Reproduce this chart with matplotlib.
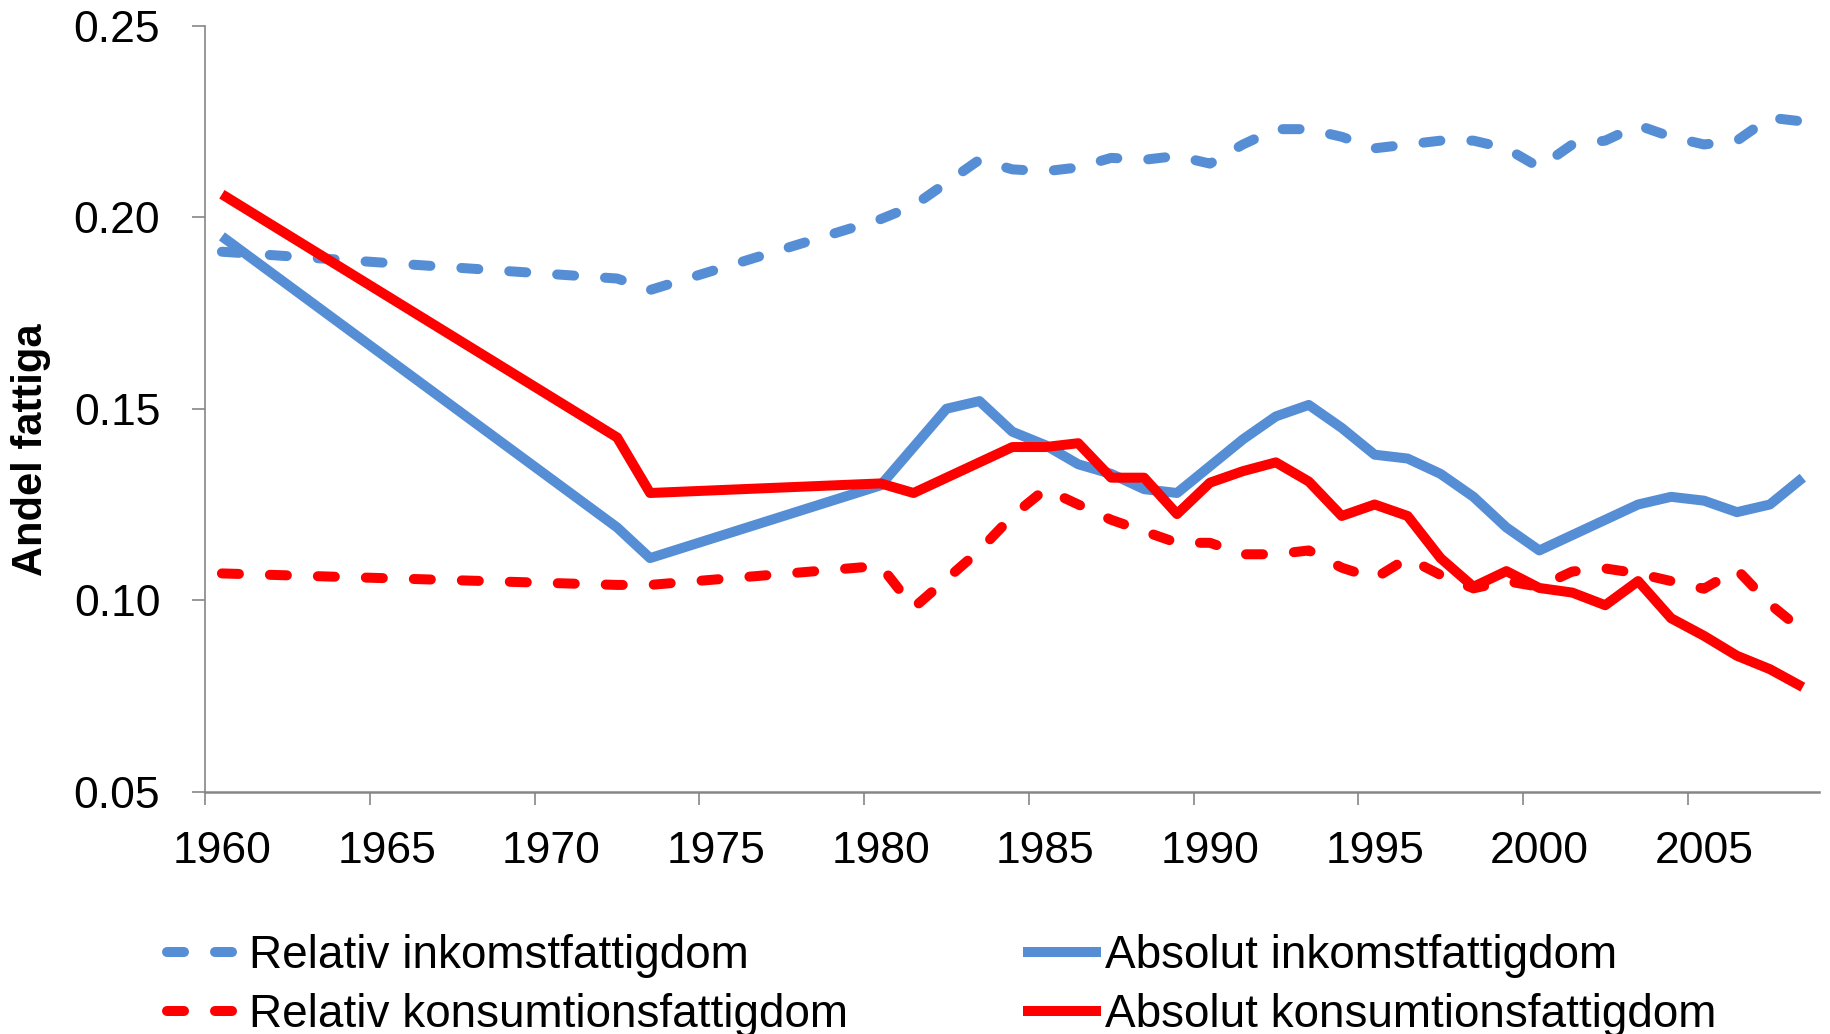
import numpy as np
import matplotlib
matplotlib.use("Agg")
import matplotlib.pyplot as plt

plt.rcParams['font.family'] = ['Liberation Sans', 'DejaVu Sans']

years = [1960, 1972, 1973, 1980, 1981, 1982, 1983, 1984, 1985, 1986, 1987,
         1988, 1989, 1990, 1991, 1992, 1993, 1994, 1995, 1996, 1997, 1998,
         1999, 2000, 2001, 2002, 2003, 2004, 2005, 2006, 2007, 2008]

# Relativ inkomstfattigdom (blue dashed)
rel_ink = [0.191, 0.184, 0.181, 0.1995, 0.203, 0.209, 0.215, 0.2125, 0.212, 0.213,
           0.2155, 0.215, 0.216, 0.214, 0.219, 0.223, 0.223, 0.221, 0.218, 0.219,
           0.220, 0.220, 0.218, 0.213, 0.219, 0.220, 0.224, 0.221, 0.219, 0.220,
           0.226, 0.225]

# Absolut inkomstfattigdom (blue solid)
abs_ink = [0.195, 0.119, 0.111, 0.130, 0.140, 0.150, 0.152, 0.144, 0.1405, 0.1355,
           0.133, 0.129, 0.128, 0.135, 0.142, 0.148, 0.151, 0.145, 0.138, 0.137,
           0.133, 0.127, 0.119, 0.113, 0.117, 0.121, 0.125, 0.127, 0.126, 0.123,
           0.125, 0.132]

# Relativ konsumtionsfattigdom (red dashed)
rel_kons = [0.107, 0.104, 0.104, 0.109, 0.098, 0.1055, 0.113, 0.122, 0.129, 0.125,
            0.121, 0.118, 0.115, 0.115, 0.112, 0.112, 0.113, 0.1085, 0.1057, 0.111,
            0.1066, 0.1031, 0.105, 0.1035, 0.1075, 0.1083, 0.107, 0.105, 0.103, 0.108,
            0.099, 0.092]

# Absolut konsumtionsfattigdom (red solid)
abs_kons = [0.206, 0.1425, 0.128, 0.1305, 0.128, 0.132, 0.136, 0.140, 0.140, 0.141,
            0.132, 0.132, 0.1225, 0.1307, 0.1337, 0.136, 0.131, 0.122, 0.125, 0.122,
            0.111, 0.1035, 0.1076, 0.1032, 0.102, 0.0987, 0.105, 0.0953, 0.0907, 0.0855,
            0.082, 0.0773]

labels = ['Relativ inkomstfattigdom', 'Absolut inkomstfattigdom',
          'Relativ konsumtionsfattigdom', 'Absolut konsumtionsfattigdom']

blue = '#558ED5'
red = '#FF0000'
lw = 7.2
dash = (0, (1.7, 3.1))

fig = plt.figure(figsize=(18.31, 10.34), dpi=100)
ax = fig.add_axes([0.1122, 0.2343, 0.8814, 0.7408])

l1, = ax.plot(years, rel_ink, color=blue, lw=lw, linestyle=dash, dash_capstyle='round',
              solid_joinstyle='round')
l2, = ax.plot(years, abs_ink, color=blue, lw=lw, solid_joinstyle='round', solid_capstyle='butt')
l3, = ax.plot(years, rel_kons, color=red, lw=lw, linestyle=dash, dash_capstyle='round',
              solid_joinstyle='round')
l4, = ax.plot(years, abs_kons, color=red, lw=lw, solid_joinstyle='round', solid_capstyle='butt')

ax.set_xlim(1959.5, 2008.5)
ax.set_ylim(0.05, 0.25)

# tick marks between years, labels centred on the year
ax.set_xticks(np.arange(1959.5, 2009, 5))
ax.set_xticklabels([])
ax.set_xticks(np.arange(1960, 2006, 5), minor=True)
ax.set_xticklabels([str(y) for y in range(1960, 2006, 5)], minor=True)
ax.tick_params(axis='x', which='major', length=9, width=1.2, color='#868686', direction='out')
ax.tick_params(axis='x', which='minor', length=0, pad=28, labelsize=32)

ax.set_yticks([0.05, 0.10, 0.15, 0.20, 0.25])
ax.set_yticklabels(['0.05', '0.10', '0.15', '0.20', '0.25'])
ax.tick_params(axis='y', length=9.5, width=1.2, color='#868686', direction='out', pad=23,
               labelsize=32)

for s in ['top', 'right']:
    ax.spines[s].set_visible(False)
ax.spines['left'].set_color('#868686')
ax.spines['left'].set_linewidth(1.2)
ax.spines['bottom'].set_color('#868686')
ax.spines['bottom'].set_linewidth(1.8)

ax.set_ylabel('Andel fattiga', fontsize=30, fontweight='bold')
ax.yaxis.set_label_coords(-0.0955, 0.4466)

leg_kw = dict(loc='upper left', frameon=False, fontsize=33, handlelength=1.7,
              handletextpad=0.1, labelspacing=0.33, borderpad=0, borderaxespad=0)
fig.legend([l1, l3], [labels[0], labels[2]], bbox_to_anchor=(0.0912, 0.0964), **leg_kw)
fig.legend([l2, l4], [labels[1], labels[3]], bbox_to_anchor=(0.5587, 0.0964), **leg_kw)

fig.savefig('out.png', dpi=100)
